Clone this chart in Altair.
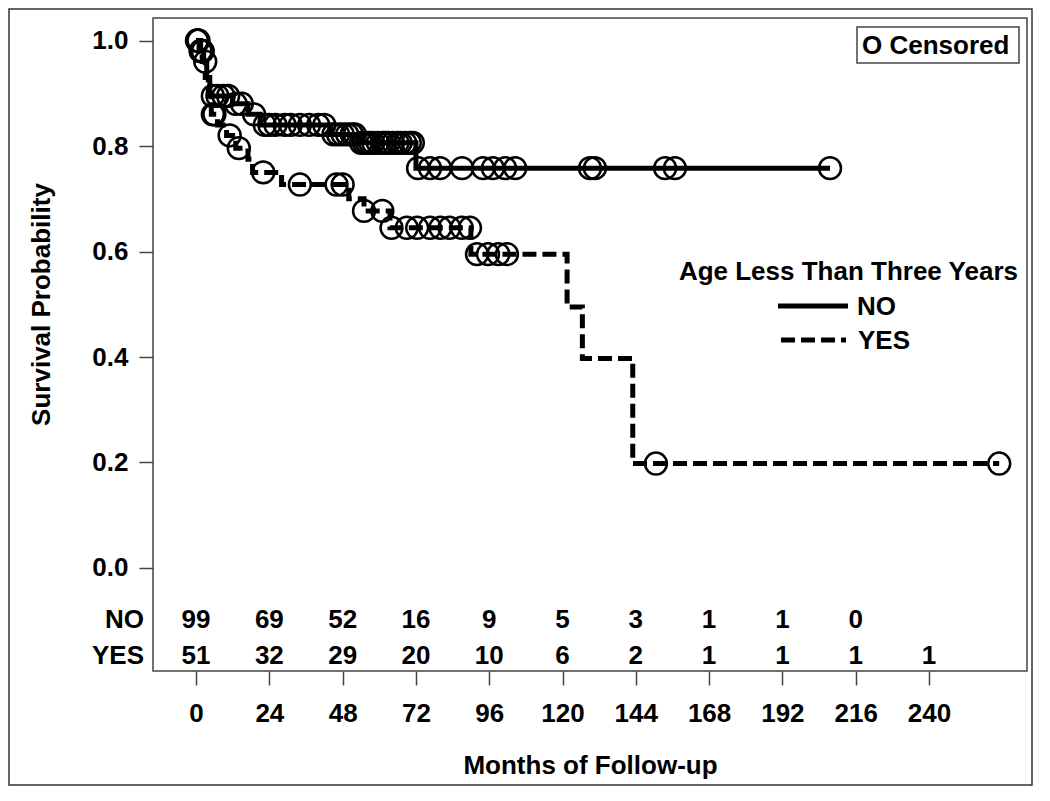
import altair as alt
import pandas as pd

# ---------------- data ----------------
# Kaplan-Meier step points: time (months) and survival after the step
no_times = [0, 1.5, 2.5, 3.5, 4.5, 12, 17, 21, 44, 53, 72, 207.6]
no_surv = [1.0, 0.98, 0.96, 0.93, 0.895, 0.88, 0.86, 0.84, 0.822, 0.806, 0.758, 0.758]

yes_times = [0, 1, 2, 3, 4, 5, 7, 10, 13, 17, 18.5, 28, 50, 55, 63.5, 90, 121.5, 126.5, 143, 263]
yes_surv = [1.0, 0.98, 0.96, 0.93, 0.90, 0.86, 0.84, 0.82, 0.796, 0.775, 0.75, 0.727, 0.70,
            0.677, 0.645, 0.595, 0.495, 0.397, 0.198, 0.198]

# censoring times (months)
no_censor = [0.3, 0.8, 1.6, 2.2, 3.0, 5.5, 7, 9, 10.5, 13, 15, 19, 22.5, 24, 26, 29, 31, 34, 37,
             40, 42, 45, 46.5, 48, 49.5, 51, 52, 54, 55, 56, 57, 58, 59.5, 61, 62, 63, 64.5, 66,
             67, 68.5, 70, 71, 72.7, 76.6, 79.9, 87.1, 94, 97.2, 101.2, 104.5, 129, 130.6,
             153.6, 156.8, 207.6]
yes_censor = [0.5, 1.5, 5.5, 6, 11, 14, 22, 34, 46, 48, 55, 61, 64, 69, 72.4, 76.6, 80, 83, 87,
              89.7, 92, 95.6, 99, 101.8, 150.6, 263]

# number at risk table
risk_ticks = [0, 24, 48, 72, 96, 120, 144, 168, 192, 216, 240]
risk_no = [99, 69, 52, 16, 9, 5, 3, 1, 1, 0]
risk_yes = [51, 32, 29, 20, 10, 6, 2, 1, 1, 1, 1]

y_ticks = [0.0, 0.2, 0.4, 0.6, 0.8, 1.0]

groups = ["NO", "YES"]

# ---------------- tables ----------------
def surv_at(times, surv, t):
    val = surv[0]
    for ti, si in zip(times, surv):
        if ti <= t:
            val = si
    return val

curve_rows = []
for g, ts, ss in [("NO", no_times, no_surv), ("YES", yes_times, yes_surv)]:
    for i, (t, s) in enumerate(zip(ts, ss)):
        curve_rows.append({"group": g, "t": t, "s": s, "order": i})
curves = pd.DataFrame(curve_rows)

cens_rows = []
for g, cs, ts, ss in [("NO", no_censor, no_times, no_surv), ("YES", yes_censor, yes_times, yes_surv)]:
    for c in cs:
        cens_rows.append({"group": g, "t": c, "s": surv_at(ts, ss, c)})
cens = pd.DataFrame(cens_rows)

risk_rows = []
for i, n in enumerate(risk_no):
    risk_rows.append({"row": "NO", "t": risk_ticks[i], "n": str(n), "y": -0.099})
for i, n in enumerate(risk_yes):
    risk_rows.append({"row": "YES", "t": risk_ticks[i], "n": str(n), "y": -0.166})
risk = pd.DataFrame(risk_rows)

one = pd.DataFrame({"k": [0]})

FONT = "Liberation Sans"
FS = 26
XDOM = [-14.1, 272.1]
YDOM = [-0.1953, 1.0427]

xscale = alt.Scale(domain=XDOM, nice=False, zero=False)
yscale = alt.Scale(domain=YDOM, nice=False, zero=False)

x_axis = alt.Axis(values=risk_ticks, tickSize=14, tickColor="#444", tickWidth=1.5,
                  labelFontSize=FS, labelFontWeight="bold", labelFont=FONT, labelColor="black",
                  labelPadding=15, domain=False, grid=False,
                  title="Months of Follow-up", titleFont=FONT, titleFontSize=FS,
                  titleFontWeight="bold", titleColor="black", titleBaseline="alphabetic",
                  titleY=102)
y_axis = alt.Axis(values=y_ticks, format=".1f", tickSize=14, tickColor="#444", tickWidth=1.5,
                  labelFontSize=FS, labelFontWeight="bold", labelFont=FONT, labelColor="black",
                  labelPadding=11, domain=False, grid=False,
                  title="Survival Probability", titleFont=FONT, titleFontSize=FS,
                  titleFontWeight="bold", titleColor="black", titleAngle=270,
                  titleAlign="center", titleBaseline="middle", titleX=-112, titleY=286)

lines = alt.Chart(curves).mark_line(interpolate="step-after", strokeWidth=5, color="black").encode(
    x=alt.X("t:Q", scale=xscale, axis=x_axis),
    y=alt.Y("s:Q", scale=yscale, axis=y_axis),
    strokeDash=alt.StrokeDash("group:N", scale=alt.Scale(domain=groups, range=[[1, 0], [14, 6]]),
                              legend=None),
    detail="group:N",
    order="order:Q",
)

points = alt.Chart(cens).mark_point(shape="circle", filled=False, size=480, strokeWidth=2.5,
                                    color="black", opacity=1).encode(
    x=alt.X("t:Q", scale=xscale),
    y=alt.Y("s:Q", scale=yscale),
)

risk_text = alt.Chart(risk).mark_text(font=FONT, fontSize=FS, fontWeight="bold", color="black",
                                      baseline="middle", align="center").encode(
    x=alt.X("t:Q", scale=xscale),
    y=alt.Y("y:Q", scale=yscale),
    text="n:N",
)

row_labels = alt.Chart(pd.DataFrame({"row": ["NO", "YES"], "y": [-0.099, -0.166]})).mark_text(
    font=FONT, fontSize=FS, fontWeight="bold", color="black", baseline="middle", align="right"
).encode(
    x=alt.value(-9),
    y=alt.Y("y:Q", scale=yscale),
    text="row:N",
)

# censored legend box
cens_box = alt.Chart(one).mark_rect(fillOpacity=0, stroke="#444", strokeWidth=1.5).encode(
    x=alt.value(704), x2=alt.value(866), y=alt.value(9), y2=alt.value(45))
cens_text = alt.Chart(one).mark_text(font=FONT, fontSize=FS, fontWeight="bold", color="black",
                                     align="left", baseline="middle", text="O Censored").encode(
    x=alt.value(709), y=alt.value(28))

# group legend
leg_title = alt.Chart(one).mark_text(font=FONT, fontSize=FS, fontWeight="bold", color="black",
                                     align="right", baseline="middle",
                                     text="Age Less Than Three Years").encode(
    x=alt.value(865), y=alt.value(254))
leg_no_line = alt.Chart(one).mark_rule(strokeWidth=5, color="black").encode(
    x=alt.value(625), x2=alt.value(695), y=alt.value(288))
leg_yes_line = alt.Chart(one).mark_rule(strokeWidth=5, color="black", strokeDash=[14, 6]).encode(
    x=alt.value(628), x2=alt.value(693), y=alt.value(322))
leg_no_text = alt.Chart(one).mark_text(font=FONT, fontSize=FS, fontWeight="bold", color="black",
                                       align="left", baseline="middle", text="NO").encode(
    x=alt.value(704), y=alt.value(289))
leg_yes_text = alt.Chart(one).mark_text(font=FONT, fontSize=FS, fontWeight="bold", color="black",
                                        align="left", baseline="middle", text="YES").encode(
    x=alt.value(705), y=alt.value(323))

# outer figure border
outer = alt.Chart(one).mark_rect(fillOpacity=0, stroke="#333", strokeWidth=1.5).encode(
    x=alt.value(-144), x2=alt.value(879), y=alt.value(-9), y2=alt.value(767))

chart = alt.layer(
    outer, lines, points, risk_text, row_labels, cens_box, cens_text,
    leg_title, leg_no_line, leg_yes_line, leg_no_text, leg_yes_text,
).properties(
    width=874, height=653,
    autosize=alt.AutoSizeParams(type="none"),
    padding={"left": 145, "top": 10, "right": 14, "bottom": 115},
    background="white",
).configure_view(stroke="#444", strokeWidth=1.5)

chart.save("out.html", embed_options={"renderer": "svg", "actions": False})
